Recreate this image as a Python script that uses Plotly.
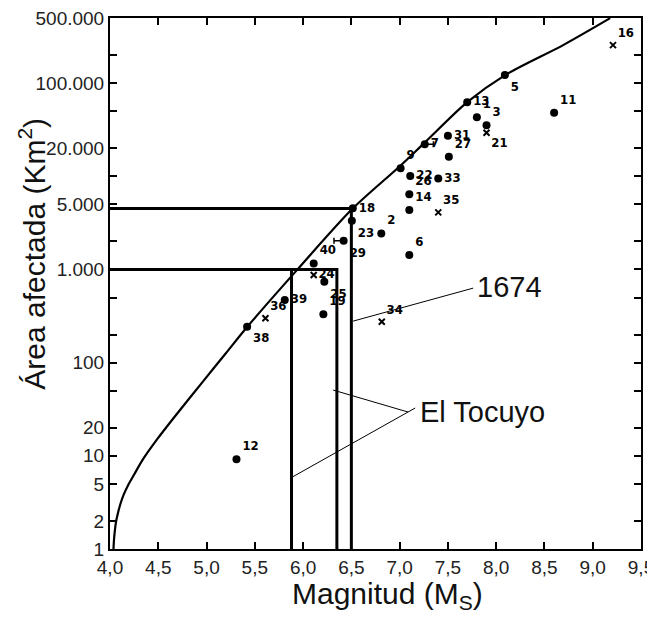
import math
import plotly.graph_objects as go

# ---------------- data ----------------
dot_labels = ["5", "13", "11", "1", "3", "31", "7", "27", "9", "22", "33", "26", "14",
              "18", "23", "2", "29", "6", "40", "25", "39", "19", "38", "12"]
dot_mag = [8.09, 7.70, 8.60, 7.80, 7.90, 7.50, 7.26, 7.51, 7.01, 7.11, 7.40, 7.10, 7.10,
           6.515, 6.505, 6.81, 6.42, 7.10, 6.11, 6.22, 5.81, 6.21, 5.42, 5.31]
dot_area = [122000, 62500, 48000, 43000, 35400, 27200, 22100, 16200, 12200, 10050, 9490, 6400, 4340,
            4530, 3330, 2440, 2030, 1430, 1160, 738, 470, 330, 243, 9.2]
dot_err_plus = [0, 0, 0, 0, 0, 0, 0.09, 0, 0, 0, 0, 0, 0, 0, 0, 0, 0, 0, 0, 0, 0, 0, 0, 0]
dot_err_minus = [0, 0, 0, 0, 0, 0, 0, 0, 0, 0, 0, 0, 0, 0, 0, 0, 0.1, 0, 0, 0, 0, 0, 0, 0]
dot_textpos = ["bottom right", "middle right", "top right", "top right", "top right", "middle right",
               "middle right", "top right", "top right", "middle right", "middle right", "top right",
               "top right", "middle right", "bottom right", "top right", "bottom right", "top right",
               "top right", "bottom right", "middle right", "top right", "bottom right", "top right"]

cross_labels = ["16", "21", "35", "24", "36", "34"]
cross_mag = [9.21, 7.90, 7.40, 6.11, 5.61, 6.815]
cross_area = [256000, 29300, 4100, 871, 299, 275]
cross_textpos = ["top right", "bottom right", "top right", "middle right", "top right", "top right"]

curve_mag = [4.036, 4.040, 4.048, 4.062, 4.083, 4.110, 4.145, 4.190, 4.250, 4.342, 4.487,
             4.653, 4.964, 5.2, 5.42, 5.938, 6.508, 7.005, 7.254, 7.70, 8.093, 8.694, 9.181]
curve_area = [1.0, 1.2, 1.5, 1.95, 2.45, 3.1, 3.9, 4.9, 6.3, 9.2, 15,
              25, 63, 126, 241, 990, 4450, 12900, 22700, 62500, 122000, 256000, 498000]

# reference lines (El Tocuyo / 1674 readings)
ref_mag = [5.88, 6.35, 6.50]
ref_area = [1000, 1000, 4500]

# leader lines
lead_1674_mag = [6.518, 7.762]
lead_1674_area = [279, 631]
lead_toc1_mag = [6.311, 7.088]
lead_toc1_area = [50.8, 29.5]
lead_toc2_mag = [5.886, 7.161]
lead_toc2_area = [5.9, 32.6]

label_1674 = ("1674", 7.78, 645)
label_toc = ("El Tocuyo", 7.19, 29.5)

x_ticks = [4.0, 4.5, 5.0, 5.5, 6.0, 6.5, 7.0, 7.5, 8.0, 8.5, 9.0, 9.5]
x_ticktext = ["4,0", "4,5", "5,0", "5,5", "6,0", "6,5", "7,0", "7,5", "8,0", "8,5", "9,0", "9,5"]
y_ticks = [1, 2, 5, 10, 20, 50, 100, 200, 500, 1000, 2000, 5000, 10000, 20000, 50000,
           100000, 200000, 500000]
y_ticktext = ["1", "2", "5", "10", "20", "", "100", "", "", "1.000", "", "5.000", "",
              "20.000", "", "100.000", "", "500.000"]

X_MIN, X_MAX = 4.0, 9.5
Y_MIN, Y_MAX = 1, 500000
EPS = 1e-4

# ---------------- figure ----------------
fig = go.Figure()
BLACK = "#000000"

# curve
fig.add_trace(go.Scatter(x=curve_mag, y=curve_area, mode="lines",
                         line=dict(color=BLACK, width=2.2, shape="spline", smoothing=0.8),
                         hoverinfo="skip", showlegend=False))

# reference lines: horizontal to left axis, vertical to bottom axis
for m, a in zip(ref_mag, ref_area):
    fig.add_trace(go.Scatter(x=[X_MIN, m, m], y=[a, a, Y_MIN], mode="lines",
                             line=dict(color=BLACK, width=3), hoverinfo="skip",
                             showlegend=False))

# leader lines
for lx, ly in [(lead_1674_mag, lead_1674_area), (lead_toc1_mag, lead_toc1_area),
               (lead_toc2_mag, lead_toc2_area)]:
    fig.add_trace(go.Scatter(x=lx, y=ly, mode="lines", line=dict(color=BLACK, width=1),
                             hoverinfo="skip", showlegend=False))

label_font = dict(family="Liberation Sans Narrow, DejaVu Sans Condensed, sans-serif",
                  size=13, color=BLACK, weight="bold")

# dots
fig.add_trace(go.Scatter(x=dot_mag, y=dot_area, mode="markers+text", text=dot_labels,
                         textposition=dot_textpos, textfont=label_font,
                         marker=dict(symbol="circle", size=8, color=BLACK),
                         error_x=dict(type="data", symmetric=False, array=dot_err_plus,
                                      arrayminus=dot_err_minus, color=BLACK, thickness=1.5,
                                      width=3),
                         showlegend=False))

# crosses
fig.add_trace(go.Scatter(x=cross_mag, y=cross_area, mode="markers+text", text=cross_labels,
                         textposition=cross_textpos, textfont=label_font,
                         marker=dict(symbol="x-thin-open", size=6, color=BLACK,
                                     line=dict(color=BLACK, width=2)),
                         showlegend=False))

big_font = dict(family="Liberation Sans, Arial, sans-serif", size=29, color="#111")
for txt, xm, ya in [label_1674, label_toc]:
    fig.add_annotation(x=xm, y=math.log10(ya), xref="x", yref="y", text=txt,
                       showarrow=False, xanchor="left", yanchor="middle", font=big_font)

title_font = dict(family="Liberation Sans, Arial, sans-serif", size=30, color="#111")
fig.add_annotation(x=-0.147, y=0.556, xref="paper", yref="paper",
                   text="Área afectada (Km<sup>2</sup>)", textangle=-90, showarrow=False,
                   xanchor="center", yanchor="middle", font=title_font)
fig.add_annotation(x=0.5235, y=-0.088, xref="paper", yref="paper",
                   text="Magnitud (M<sub>S</sub>)", showarrow=False,
                   xanchor="center", yanchor="middle", font=title_font)

tick_font = dict(family="Liberation Sans, Arial, sans-serif", size=19, color="#222")
fig.update_xaxes(range=[X_MIN - EPS, X_MAX + EPS], tickvals=x_ticks, ticktext=x_ticktext,
                 ticks="inside", ticklen=7, tickwidth=1.5, tickcolor=BLACK,
                 showline=True, linecolor=BLACK, linewidth=2, mirror="ticks",
                 showgrid=False, zeroline=False, tickfont=tick_font, automargin=False,
                 ticklabeloverflow="allow")
fig.update_yaxes(type="log", range=[math.log10(Y_MIN) - EPS, math.log10(Y_MAX) + EPS],
                 tickvals=y_ticks, ticktext=y_ticktext, ticks="inside", ticklen=7,
                 tickwidth=1.5, tickcolor=BLACK, showline=True, linecolor=BLACK, linewidth=2,
                 mirror="ticks", showgrid=False, zeroline=False, tickfont=tick_font,
                 automargin=False, ticklabeloverflow="allow")

# the page body adds an 8 px offset, so the figure is 8 px smaller and margins shifted
fig.update_layout(width=647, height=612, margin=dict(l=102, r=14, t=10, b=71),
                  plot_bgcolor="white", paper_bgcolor="white", showlegend=False)

fig.write_html("out.html")
